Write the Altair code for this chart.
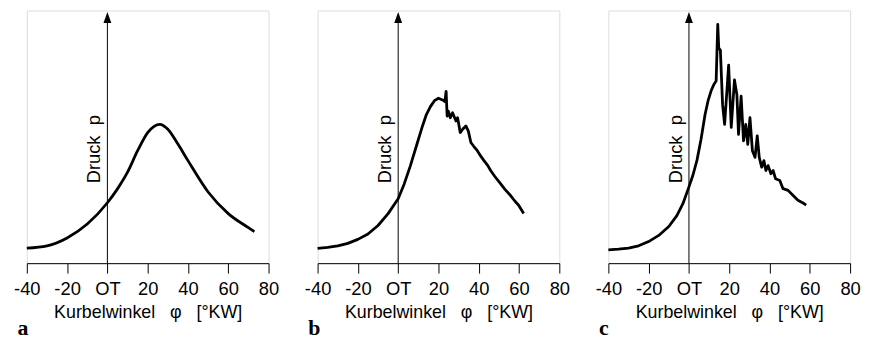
import altair as alt
import pandas as pd

# ---- data (crank angle in °KW, pressure in relative units) ----
TICKS = [-40, -20, 0, 20, 40, 60, 80]

a_phi = [-40, -30, -20, -10, 0, 5, 10, 15, 20, 26, 30, 35, 40, 50, 60, 70, 73]
a_p = [15.2, 17.5, 25.5, 39.5, 61, 75, 91.8, 113.5, 131.8, 140.2, 135.2, 120.2, 103.5, 71.8, 50, 35.8, 31.8]

b_phi = [-40, -35, -30, -25, -20, -15, -10, -5, 0, 3, 6, 9, 12, 14, 16, 18, 20, 22.3, 23.2,
         23.8, 24.3, 24.9, 25.9, 27.0, 28.7, 29.5, 30.8, 32.0, 33.6, 34.8, 36.1, 37.5, 39.3,
         41.0, 42.6, 44.5, 45.9, 48.0, 50.8, 53.0, 55.7, 58.0, 59.8, 62.3]
b_p = [15, 16, 17.5, 20, 24, 29.5, 38, 50, 65, 80, 98, 118, 138, 150, 158, 164, 166.5, 164.5, 163,
       173.5, 148.5, 153.5, 146.8, 151.8, 143.5, 146.8, 131.8, 135.2, 138.5, 133.5, 121.8, 118, 113.5,
       108, 103.5, 98.5, 93.5, 87.5, 80.2, 74.5, 68.5, 62.5, 58.5, 50.2]

c_phi = [-40, -35, -30, -25, -20, -15, -10, -6, -3, 0, 2, 4, 6, 8, 9.5, 11, 12.3, 13.5, 14.3,
         14.8, 15.6, 16.7, 17.7, 18.5, 19.7, 21.0, 22.6, 23.8, 24.6, 25.9, 27.1, 28.2, 29.2,
         30.3, 31.5, 32.8, 33.9, 34.9, 36.1, 37.2, 38.2, 39.3, 40.7, 41.8, 43.0, 45.1, 46.7,
         49.2, 51.6, 54.1, 56.6, 58.2]
c_p = [13.5, 14.2, 15.2, 17.5, 21.8, 28, 37, 48, 60, 77, 89, 104, 125, 150, 164, 174, 180, 184, 241,
       217, 215, 160, 140, 163.5, 200, 137, 185, 170, 130, 168.5, 123.5, 140, 120,
       146.8, 113.5, 106.8, 128.5, 106.8, 96.8, 103.5, 93.5, 98.5, 90.2, 93.5, 85.2, 83.5, 75.2,
       73.5, 68.5, 63.5, 60.8, 58.5]

AXIS_LINE = [0, 244]      # vertical pressure axis (from the crank-angle axis up)
ARROW_P = [248]           # arrow head centre
LABEL_P = [115]           # centre of the "Druck p" label

FONT = "Liberation Sans"
X_TITLE = "Kurbelwinkel\u00a0\u00a0\u00a0\u03c6\u00a0\u00a0\u00a0[\u00b0KW]"
Y_LABEL = "Druck\u00a0\u00a0p"

xscale = alt.Scale(domain=[-40, 80], nice=False, zero=False)
yscale = alt.Scale(domain=[0, 255], nice=False, zero=False)
xaxis = alt.Axis(
    values=TICKS,
    labelExpr="datum.value == 0 ? 'OT' : '' + datum.value",
    title=X_TITLE,
    labelFont=FONT, labelFontSize=18.5, labelColor="black",
    titleFont=FONT, titleFontSize=18, titleFontWeight="normal", titleColor="black",
    domainColor="black", domainWidth=1, tickColor="black", tickSize=10, tickWidth=1,
    labelPadding=7, titlePadding=5, grid=False, labelOverlap=False, labelFlush=False,
)


def panel(phi, p, letter, interp):
    X = lambda f: alt.X(f, type="quantitative", scale=xscale, axis=xaxis)
    Y = lambda f: alt.Y(f, type="quantitative", scale=yscale, axis=None)
    curve = alt.Chart(pd.DataFrame({"phi": phi, "p": p})).mark_line(
        color="black", strokeWidth=2.8, interpolate=interp, strokeJoin="round"
    ).encode(x=X("phi"), y=Y("p"))
    rule = alt.Chart(pd.DataFrame({"phi": [0], "p": [AXIS_LINE[0]], "p2": [AXIS_LINE[1]]})).mark_rule(
        color="black", strokeWidth=1
    ).encode(x=X("phi"), y=Y("p"), y2="p2")
    head = alt.Chart(pd.DataFrame({"phi": [0], "p": ARROW_P})).mark_point(
        shape="M0,-1L0.72,1L-0.72,1Z", filled=True, color="black", size=121, opacity=1
    ).encode(x=X("phi"), y=Y("p"))
    lab = alt.Chart(pd.DataFrame({"phi": [0], "p": LABEL_P, "t": [Y_LABEL]})).mark_text(
        angle=270, align="center", baseline="alphabetic", dy=-7, font=FONT, fontSize=18.5, color="black"
    ).encode(x=X("phi"), y=Y("p"), text="t:N")
    return alt.layer(curve, rule, head, lab).properties(
        width=244, height=255,
        title=alt.TitleParams(text=letter, orient="bottom", anchor="start", font="Liberation Serif",
                              fontSize=22, fontWeight="bold", color="black", offset=-3, dx=4),
    )


chart = alt.hconcat(
    panel(a_phi, a_p, "a", "monotone"),
    panel(b_phi, b_p, "b", "linear"),
    panel(c_phi, c_p, "c", "linear"),
    spacing=49.5, bounds="flush",
).properties(
    padding={"left": 5, "top": 0, "right": 0, "bottom": 0}
).configure_view(stroke=None).configure(background="white")

chart.save("out.html", embed_options={"renderer": "svg", "actions": False})
